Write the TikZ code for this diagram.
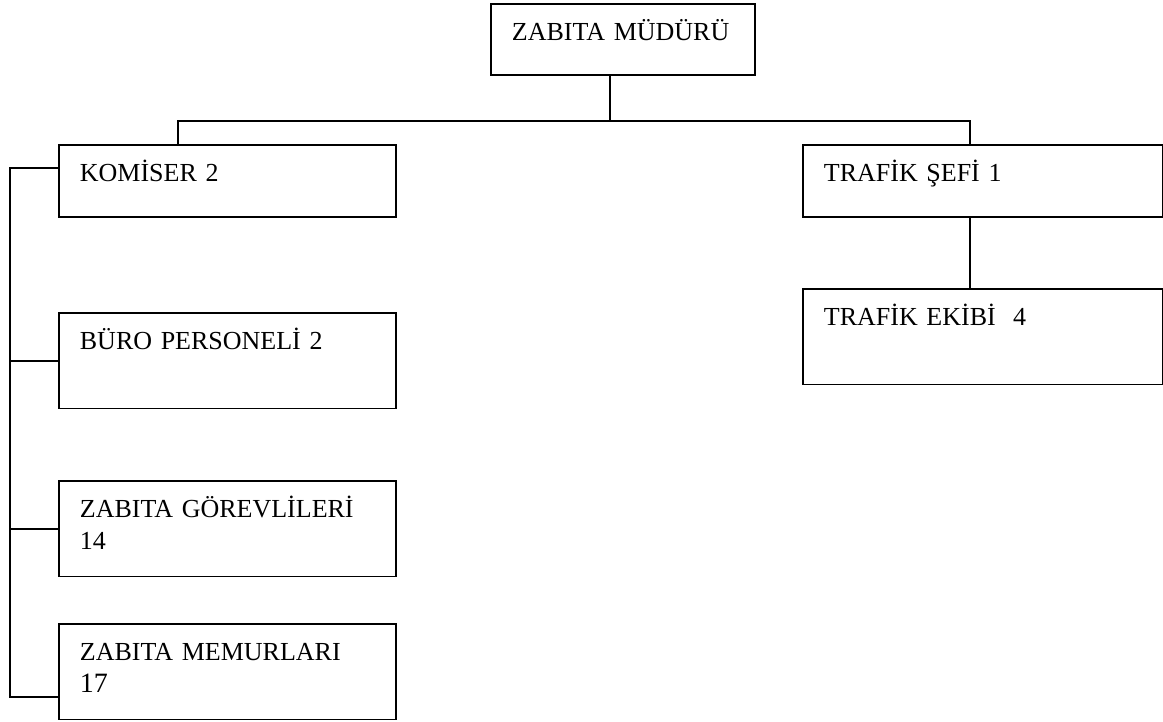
\documentclass[tikz,border=0pt]{standalone}
\usepackage{fontspec}
\setmainfont{Liberation Serif}
\usetikzlibrary{calc}

\begin{document}
\begin{tikzpicture}[x=0.5pt, y=-0.5pt,
        unit/.style={draw, rectangle, line width=0.9pt, anchor=north west, align=left, inner xsep=10.5pt, inner ysep=9.5pt, text height=8.6pt, font=\fontsize{13}{16}\selectfont},
        short/.style={text depth=8.4pt},
        tall/.style={text depth=20.2pt},
        link/.style={line width=0.9pt}
    ]
        \useasboundingbox (0,0) rectangle (1163,722);

        % Units
        \node[unit, text width=111pt, text depth=7.9pt] (mudur) at (490,3) {ZABITA MÜDÜRÜ};
        \node[unit, short, text width=147.5pt] (komiser) at (58,144) {KOMİSER 2};
        \node[unit, tall, text width=147.5pt] (buro) at (58,312) {BÜRO PERSONELİ 2};
        \node[unit, tall, text width=147.5pt] (gorevli) at (58,480) {ZABITA GÖREVLİLERİ\\14};
        \node[unit, tall, text width=147.5pt] (memur) at (58,623) {ZABITA MEMURLARI\\{\fontsize{14}{16}\selectfont 17}};
        \node[unit, short, text width=159pt] (sef) at (802,144) {TRAFİK ŞEFİ 1};
        \node[unit, tall, text width=159pt] (ekip) at (802,288) {TRAFİK EKİBİ\ \ 4};

        % Branch points
        \coordinate (hub) at (610,121);
        \coordinate (lft) at (178,121);
        \coordinate (rgt) at (970,121);
        \coordinate (spine) at (10,0);
        \coordinate (ktap) at ($(komiser.north west)!0.33!(komiser.south west)$);
        \coordinate (mtap) at ($(memur.north west)!0.76!(memur.south west)$);

        % Lines
        \draw[link] (mudur.south -| hub) -- (hub);
        \draw[link] (lft |- komiser.north) -- (lft) -- (rgt) -- (rgt |- sef.north);
        \draw[link] (sef.south -| rgt) -- (ekip.north -| rgt);
        \draw[link] (ktap) -- (ktap -| spine) -- (mtap -| spine) -- (mtap);
        \draw[link] (buro.west) -- (buro.west -| spine);
        \draw[link] (gorevli.west) -- (gorevli.west -| spine);
    \end{tikzpicture}
\end{document}
